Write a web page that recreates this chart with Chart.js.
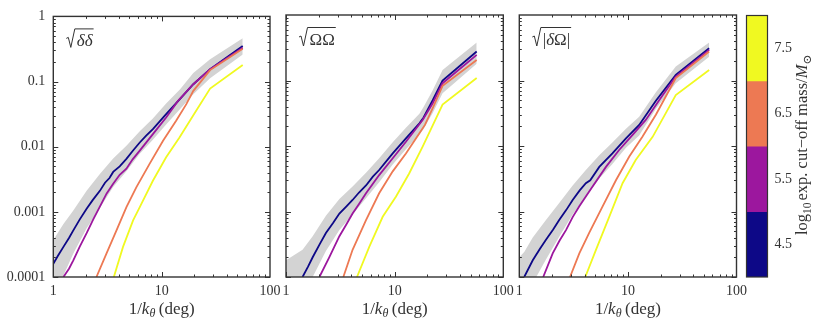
<!DOCTYPE html>
<html><head><meta charset="utf-8">
<script src="https://cdn.jsdelivr.net/npm/chart.js@4.4.1/dist/chart.umd.min.js"></script>
<style>
html,body{margin:0;padding:0;background:#fff;}
#wrap{position:relative;width:830px;height:321px;overflow:hidden;background:#fff;}
canvas{position:absolute;top:0;}
</style></head><body>
<div id="wrap">
<canvas id="c1" width="292" height="321" style="left:0px"></canvas>
<canvas id="c2" width="250" height="321" style="left:270px"></canvas>
<canvas id="c3" width="250" height="321" style="left:503px"></canvas>
<canvas id="c4" width="90" height="321" style="left:740px"></canvas>
</div>
<script>
// ---------- tick labels ----------
const xTicks = [1, 10, 100];
const xTickLabels = ['1', '10', '100'];
const yTicks = [0.0001, 0.001, 0.01, 0.1, 1];
const yTickLabels = ['0.0001', '0.001', '0.01', '0.1', '1'];

// ---------- colour bar ----------
const cbLabels = ['4.5', '5.5', '6.5', '7.5'];
const cbSpan = [1, 1, 1, 1];
const cbColors = ['#0d0887', '#9c179e', '#ed7953', '#f0f921'];

// ---------- panel 1 : sqrt(delta delta) ----------
const p1_bandX  = [1, 1.24, 1.53, 2.03, 2.69, 3.57, 4.73, 6.28, 8.3, 11, 14.8, 19.6, 28, 56];
const p1_bandHi = [3.7e-4, 6.5e-4, 1.05e-3, 2.1e-3, 3.8e-3, 6.6e-3, 0.0103, 0.0172, 0.027, 0.046, 0.076, 0.135, 0.22, 0.46];
const p1_bandLo = [5.5e-5, 1.05e-4, 2.3e-4, 5.6e-4, 1.15e-3, 2.4e-3, 4.2e-3, 7.8e-3, 0.0128, 0.022, 0.038, 0.064, 0.112, 0.26];
const p1_x45 = [1, 1.1, 1.24, 1.4, 1.53, 1.75, 2.03, 2.3, 2.69, 3.0, 3.3, 3.57, 4.1, 4.73, 5.4, 6.28, 7.2, 8.3, 11.0, 14.8, 19.6, 28, 56];
const p1_y45 = [1.6e-4, 2.1e-4, 2.9e-4, 4.0e-4, 5.2e-4, 7.6e-4, 1.12e-3, 1.5e-3, 2.1e-3, 2.8e-3, 3.3e-3, 4.1e-3, 5.0e-3, 6.5e-3, 8.6e-3, 0.0116, 0.0148, 0.0186, 0.0316, 0.054, 0.091, 0.155, 0.35];
const p1_x55 = [1.24, 1.4, 1.53, 1.75, 2.03, 2.35, 2.69, 3.1, 3.57, 4.1, 4.73, 5.4, 6.28, 8.3, 11.0, 14.1, 19.6, 28, 56];
const p1_y55 = [1e-4, 1.35e-4, 1.8e-4, 2.9e-4, 4.7e-4, 7.8e-4, 1.2e-3, 1.9e-3, 2.7e-3, 3.7e-3, 4.6e-3, 6.4e-3, 8.7e-3, 0.0156, 0.028, 0.05, 0.091, 0.155, 0.33];
const p1_x65 = [2.5, 3.1, 3.83, 4.73, 5.85, 7.76, 10.3, 13.6, 16.9, 19.6, 28, 56];
const p1_y65 = [1e-4, 2.3e-4, 5.2e-4, 1.18e-3, 2.4e-3, 5.5e-3, 0.0123, 0.025, 0.045, 0.072, 0.15, 0.32];
const p1_x75 = [3.62, 4.4, 5.45, 6.28, 8.3, 11.0, 14.6, 20, 28, 56];
const p1_y75 = [1e-4, 2.9e-4, 7.4e-4, 1.18e-3, 3.0e-3, 6.9e-3, 0.0138, 0.032, 0.078, 0.18];

// ---------- panel 2 : sqrt(Omega Omega) ----------
const p2_bandX  = [1, 1.42, 1.76, 2.33, 3.1, 4.1, 5.45, 7.2, 9.6, 12.7, 16.9, 18.4, 22.4, 27.6, 56.9];
const p2_bandHi = [1.8e-4, 2.6e-4, 4.2e-4, 8.6e-4, 1.55e-3, 2.4e-3, 3.9e-3, 6.5e-3, 0.0114, 0.019, 0.031, 0.039, 0.071, 0.145, 0.38];
const p2_bandLo = [1e-5, 4.5e-5, 1.0e-4, 2.5e-4, 5.2e-4, 9e-4, 1.6e-3, 2.8e-3, 5.2e-3, 8.9e-3, 0.015, 0.018, 0.032, 0.064, 0.18];
const p2_x45 = [1.42, 1.6, 1.76, 2.05, 2.33, 2.7, 3.1, 3.6, 4.1, 4.7, 5.45, 6.3, 7.2, 9.6, 12.7, 16.9, 18.4, 22.4, 27.6, 56.9];
const p2_y45 = [1e-4, 1.45e-4, 2.0e-4, 3.2e-4, 4.7e-4, 6.6e-4, 9.3e-4, 1.2e-3, 1.5e-3, 1.95e-3, 2.5e-3, 3.4e-3, 4.3e-3, 7.7e-3, 0.0131, 0.0222, 0.027, 0.05, 0.1, 0.277];
const p2_x55 = [2.03, 2.5, 3.1, 3.6, 4.1, 4.7, 5.45, 7.2, 9.6, 12.7, 18.1, 22.4, 27.6, 56.9];
const p2_y55 = [1e-4, 2.0e-4, 4.2e-4, 6.4e-4, 9.3e-4, 1.3e-3, 1.9e-3, 3.6e-3, 6.5e-3, 0.0116, 0.025, 0.045, 0.091, 0.246];
const p2_x65 = [3.37, 4.1, 5.45, 7.2, 9.6, 12.7, 16.9, 19, 22.4, 27.6, 56.9];
const p2_y65 = [1e-4, 2.6e-4, 7.4e-4, 1.9e-3, 4.1e-3, 7.7e-3, 0.0156, 0.021, 0.038, 0.083, 0.206];
const p2_x75 = [4.5, 5.85, 7.76, 10.3, 13.6, 18.1, 27.6, 56.9];
const p2_y75 = [1e-4, 2.9e-4, 8.3e-4, 1.7e-3, 3.8e-3, 9.8e-3, 0.043, 0.109];

// ---------- panel 3 : sqrt(|delta Omega|) ----------
const p3_bandX  = [1, 1.11, 1.33, 1.76, 2.33, 3.1, 4.1, 5.45, 7.2, 9.6, 12.7, 18.1, 27.6, 56];
const p3_bandHi = [2.0e-4, 2.4e-4, 4.0e-4, 7.4e-4, 1.35e-3, 2.5e-3, 4.3e-3, 7.2e-3, 0.0113, 0.0183, 0.028, 0.066, 0.163, 0.38];
const p3_bandLo = [3e-5, 4.2e-5, 8e-5, 1.85e-4, 4.1e-4, 9e-4, 1.7e-3, 3.2e-3, 5.3e-3, 9.4e-3, 0.0145, 0.037, 0.091, 0.23];
const p3_x45 = [1.11, 1.33, 1.55, 1.76, 2.05, 2.33, 2.7, 3.1, 3.6, 4.1, 4.5, 5.45, 7.2, 9.6, 12.7, 18.1, 27.6, 56];
const p3_y45 = [1e-4, 1.8e-4, 2.7e-4, 3.7e-4, 5.3e-4, 7.4e-4, 1.05e-3, 1.5e-3, 2.1e-3, 2.7e-3, 3.0e-3, 4.8e-3, 7.7e-3, 0.0131, 0.021, 0.049, 0.122, 0.31];
const p3_x55 = [1.66, 2.03, 2.35, 2.69, 3.1, 3.57, 4.1, 4.73, 6.28, 8.3, 11.0, 14.6, 19.4, 27.6, 56];
const p3_y55 = [1e-4, 2.3e-4, 3.6e-4, 5.2e-4, 8.2e-4, 1.2e-3, 1.7e-3, 2.4e-3, 4.8e-3, 8.7e-3, 0.0147, 0.025, 0.05, 0.115, 0.293];
const p3_x65 = [2.93, 3.57, 4.4, 5.85, 7.76, 10.3, 13.6, 18.1, 27.6, 56];
const p3_y65 = [1e-4, 2.3e-4, 4.7e-4, 1.2e-3, 3.0e-3, 6.9e-3, 0.0138, 0.03, 0.109, 0.277];
const p3_x75 = [4.05, 5.08, 6.73, 8.93, 11.8, 16.9, 27.6, 56];
const p3_y75 = [1e-4, 2.6e-4, 8.3e-4, 2.7e-3, 6.1e-3, 0.0138, 0.06, 0.145];

// ---------- styling ----------
const SERIF = "'Liberation Serif', 'DejaVu Serif', serif";
const INK = '#333333';
const BAND = '#d3d3d3';

function pts(xs, ys) { return xs.map((x, i) => ({ x: x, y: ys[i] })); }

function drawRuns(ctx, runs, x, base, measureOnly) {
  let w = 0;
  for (const r of runs) {
    ctx.font = r.font;
    if (!measureOnly) ctx.fillText(r.t, x + w, base + (r.dy || 0));
    w += ctx.measureText(r.t).width + (r.gap || 0);
  }
  return w;
}

const frameTicks = {
  id: 'frameTicks',
  afterDraw(chart) {
    const { ctx, chartArea: a, scales } = chart;
    const xs = scales.x, ys = scales.y;
    ctx.save();
    ctx.strokeStyle = INK;
    ctx.lineWidth = 1;
    const seg = (x1, y1, x2, y2) => { ctx.beginPath(); ctx.moveTo(x1, y1); ctx.lineTo(x2, y2); ctx.stroke(); };
    for (let d = 1; d < 100; d *= 10) {
      for (let k = 1; k <= 9; k++) {
        const v = d * k;
        const px = Math.round(xs.getPixelForValue(v)) + 0.5;
        const L = k === 1 ? 5 : 2.5;
        seg(px, a.bottom, px, a.bottom - L);
        seg(px, a.top, px, a.top + L);
      }
    }
    for (let d = 1e-4; d < 0.99; d *= 10) {
      for (let k = 1; k <= 9; k++) {
        const v = d * k;
        const py = Math.round(ys.getPixelForValue(v)) + 0.5;
        const L = k === 1 ? 5 : 2.5;
        seg(a.left, py, a.left + L, py);
        seg(a.right, py, a.right - L, py);
      }
    }
    ctx.lineWidth = 1.4;
    ctx.strokeRect(a.left, a.top, a.right - a.left, a.bottom - a.top);

    // x-axis title: 1/k_theta (deg)
    ctx.fillStyle = INK;
    ctx.textBaseline = 'alphabetic';
    const runs = [
      { t: '1/', font: '17px ' + SERIF },
      { t: 'k', font: 'italic 17px ' + SERIF },
      { t: 'θ', font: 'italic 12px ' + SERIF, dy: 3, gap: 3.5 },
      { t: '(deg)', font: '17px ' + SERIF }
    ];
    const w = drawRuns(ctx, runs, 0, 0, true);
    drawRuns(ctx, runs, (a.left + a.right) / 2 - w / 2, 314, false);

    // panel label with radical sign
    const t = chart.options.plugins.panelTitle;
    if (t) {
      const x0 = a.left + 13;
      const base = a.top + 30;
      const tw = drawRuns(ctx, t, 0, 0, true);
      const top = a.top + 12.5;
      ctx.lineWidth = 1;
      ctx.beginPath();
      ctx.moveTo(x0, base - 8);
      ctx.lineTo(x0 + 2, base - 9);
      ctx.lineTo(x0 + 4.5, base + 1);
      ctx.lineTo(x0 + 8.5, top);
      ctx.lineTo(x0 + 10.5 + tw + 1, top);
      ctx.stroke();
      drawRuns(ctx, t, x0 + 10.5, base, false);
    }
    ctx.restore();
  }
};

function makePanel(id, padL, padR, showY, title, bx, bhi, blo, s45, s55, s65, s75) {
  const lineDs = (data, color, order) => ({ data: data, borderColor: color, borderWidth: 1.8, pointRadius: 0, fill: false, tension: 0, order: order });
  new Chart(document.getElementById(id), {
    type: 'line',
    data: {
      datasets: [
        { data: pts(bx, bhi), borderWidth: 0, pointRadius: 0, fill: '+1', backgroundColor: BAND, order: 10 },
        { data: pts(bx, blo), borderWidth: 0, pointRadius: 0, fill: false, order: 10 },
        lineDs(s45, cbColors[0], 4),
        lineDs(s55, cbColors[1], 3),
        lineDs(s65, cbColors[2], 2),
        lineDs(s75, cbColors[3], 1)
      ]
    },
    options: {
      responsive: false, animation: false, devicePixelRatio: 1,
      layout: { padding: { left: padL, right: padR, top: 15, bottom: 0 } },
      scales: {
        x: {
          type: 'logarithmic', min: 1, max: 100,
          grid: { display: false, drawTicks: false }, border: { display: false },
          afterBuildTicks: s => { s.ticks = xTicks.map(v => ({ value: v })); },
          afterFit: s => { s.height = 44; },
          ticks: { autoSkip: false, maxRotation: 0, padding: 6, color: INK, font: { family: SERIF, size: 14 },
                   callback: (v, i) => xTickLabels[i] }
        },
        y: {
          type: 'logarithmic', min: 0.0001, max: 1, display: showY,
          grid: { display: false, drawTicks: false }, border: { display: false },
          afterBuildTicks: s => { s.ticks = yTicks.map(v => ({ value: v })); },
          afterFit: s => { s.width = showY ? 53.3 : 0; },
          ticks: { autoSkip: false, padding: 8, color: INK, font: { family: SERIF, size: 14 },
                   callback: (v, i) => yTickLabels[i] }
        }
      },
      plugins: { legend: { display: false }, tooltip: { enabled: false }, panelTitle: title }
    },
    plugins: [frameTicks]
  });
}

const greek = (t, it) => ({ t: t, font: (it ? 'italic ' : '') + '17px ' + SERIF });

makePanel('c1', 0, 22, true, [greek('δδ', true)],
  p1_bandX, p1_bandHi, p1_bandLo, pts(p1_x45, p1_y45), pts(p1_x55, p1_y55), pts(p1_x65, p1_y65), pts(p1_x75, p1_y75));
makePanel('c2', 16, 16.7, false, [greek('ΩΩ', false)],
  p2_bandX, p2_bandHi, p2_bandLo, pts(p2_x45, p2_y45), pts(p2_x55, p2_y55), pts(p2_x65, p2_y65), pts(p2_x75, p2_y75));
makePanel('c3', 16.3, 16.3, false, [greek('|', false), greek('δ', true), greek('Ω', false), greek('|', false)],
  p3_bandX, p3_bandHi, p3_bandLo, pts(p3_x45, p3_y45), pts(p3_x55, p3_y55), pts(p3_x65, p3_y65), pts(p3_x75, p3_y75));

// ---------- colour bar ----------
const cbPlugin = {
  id: 'cbPlugin',
  afterDraw(chart) {
    const { ctx, chartArea: a } = chart;
    ctx.save();
    ctx.strokeStyle = INK;
    ctx.lineWidth = 1.2;
    ctx.strokeRect(a.left, a.top, a.right - a.left, a.bottom - a.top);
    ctx.fillStyle = INK;
    ctx.textBaseline = 'alphabetic';
    const fs = 16.5;
    const runs = [
      { t: 'log', font: fs + 'px ' + SERIF },
      { t: '10', font: (fs * 0.7) + 'px ' + SERIF, dy: 4, gap: 2 },
      { t: 'exp. cut−off mass/', font: fs + 'px ' + SERIF },
      { t: 'M', font: 'italic ' + fs + 'px ' + SERIF },
      { t: '⊙', font: (fs * 0.7) + 'px ' + SERIF, dy: 4 }
    ];
    const w = drawRuns(ctx, runs, 0, 0, true);
    ctx.translate(67, 145);
    ctx.rotate(-Math.PI / 2);
    drawRuns(ctx, runs, -w / 2, 0, false);
    ctx.restore();
  }
};

new Chart(document.getElementById('c4'), {
  type: 'bar',
  data: { labels: cbLabels, datasets: [{ data: cbSpan, backgroundColor: cbColors, borderWidth: 0, barPercentage: 1, categoryPercentage: 1 }] },
  options: {
    indexAxis: 'y', responsive: false, animation: false, devicePixelRatio: 1,
    layout: { padding: { left: 6.5, top: 15.5, bottom: 44, right: 0 } },
    scales: {
      x: { display: false, min: 0, max: 1 },
      y: { position: 'right', reverse: true,
           grid: { display: false, drawTicks: false }, border: { display: false },
           afterFit: s => { s.width = 62.5; },
           ticks: { padding: 7, color: INK, font: { family: SERIF, size: 14 } } }
    },
    plugins: { legend: { display: false }, tooltip: { enabled: false } }
  },
  plugins: [cbPlugin]
});
</script>
</body></html>
